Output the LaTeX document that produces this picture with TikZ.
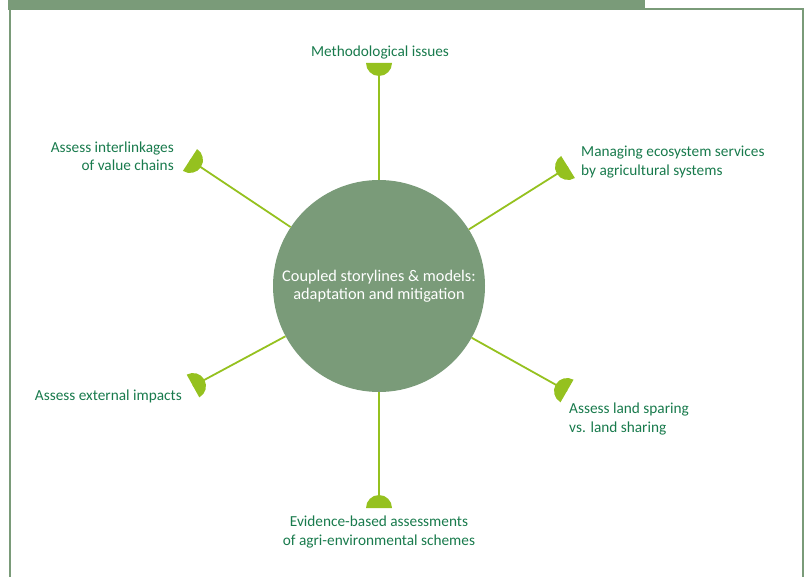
\documentclass[tikz,border=0pt]{standalone}
\usepackage{fontspec}
\setmainfont{Carlito}
\definecolor{frameg}{RGB}{122,155,121}
\definecolor{limeg}{RGB}{149,193,31}
\definecolor{textg}{RGB}{24,122,76}
\tikzset{
  lbl/.style={text=textg, inner sep=0pt, font=\fontsize{15.3}{18.5}\selectfont},
  spoke/.style={draw=limeg, line width=1.8pt},
  hub/.style={circle, fill=frameg, minimum size=212pt, inner sep=0pt, text=white, align=center, font=\fontsize{16.3}{18.5}\selectfont},
}
\newcommand{\capshape}[2]{%
  \fill[limeg, shift={#1}, rotate=#2] (0,13) arc[start angle=90, end angle=270, radius=13] -- cycle;}
\begin{document}
\begin{tikzpicture}[x=1pt,y=1pt]
\useasboundingbox (0,0) rectangle (811,-577);
\clip (0,0) rectangle (811,-577);
% frame and band
\fill[frameg] (8,2) rectangle (645,-10);
\draw[frameg, line width=2pt] (10,-590) -- (10,-9) -- (803,-9) -- (803,-590);
% hub
\node[hub] (c) at (379,-286) {Coupled storylines \& models:\\adaptation and mitigation};
% cap positions
\coordinate (pT) at (379,-63);
\coordinate (pB) at (379,-508);
\coordinate (pUL) at (190,-160);
\coordinate (pUR) at (568,-167);
\coordinate (pLR) at (567,-391);
\coordinate (pLL) at (193,-386);
% spokes
\draw[spoke] (c) -- (pT);
\draw[spoke] (c) -- (pB);
\draw[spoke] (c) -- (pUL);
\draw[spoke] (c) -- (pUR);
\draw[spoke] (c) -- (pLR);
\draw[spoke] (c) -- (pLL);
% caps
\capshape{(pT)}{90}
\capshape{(pB)}{-90}
\capshape{(pUL)}{147}
\capshape{(pUR)}{32}
\capshape{(pLR)}{-30}
\capshape{(pLL)}{209}
% labels
\node[lbl, anchor=center] (lT) at (380,-53) {Methodological issues};
\node[lbl, anchor=east, align=right] (lUL) at (174,-156) {Assess interlinkages\\of value chains};
\node[lbl, anchor=west, align=left] (lUR) at (581,-162) {Managing ecosystem services\\by agricultural systems};
\node[lbl, anchor=east, align=right] (lLL) at (182,-396) {Assess external impacts};
\node[lbl, anchor=west, align=left] (lLR) at (569,-419) {Assess land sparing\\vs. land sharing};
\node[lbl, anchor=center, align=center] (lB) at (379,-532) {Evidence-based assessments\\of agri-environmental schemes};
\end{tikzpicture}
\end{document}
